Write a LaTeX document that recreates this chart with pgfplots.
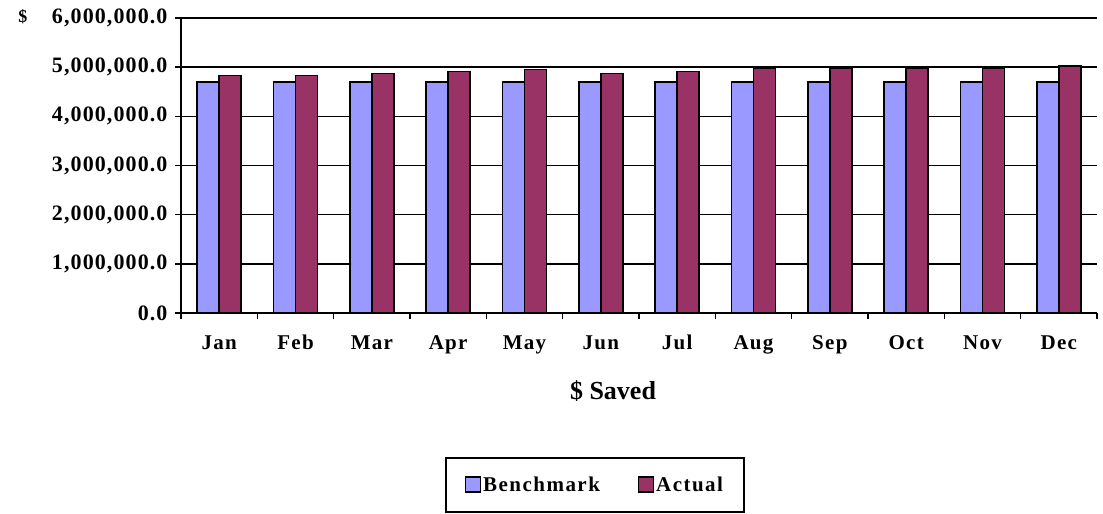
\documentclass[border=0pt]{standalone}
\usepackage{pgfplots}
\pgfplotsset{compat=1.18}
\usepackage{fontspec}
\setmainfont{Liberation Serif}
\usetikzlibrary{calc}
\definecolor{bench}{HTML}{9999FF}
\definecolor{act}{HTML}{993366}
\begin{document}
\begin{tikzpicture}
\begin{axis}[name=ax, scale only axis, width=916pt, height=295pt,
  ybar=0pt, bar width=22pt,
  xmin=-0.5, xmax=11.5, ymin=0, ymax=6000000,
  xtick={0,...,11},
  xticklabels={Jan,Feb,Mar,Apr,May,Jun,Jul,Aug,Sep,Oct,Nov,Dec},
  major x tick style={draw=none},
  minor xtick={-0.5,0.5,...,11.5},
  minor tick length=6pt,
  tick align=outside,
  major tick length=6pt,
  axis x line*=bottom, axis y line*=left,
  axis line style={-, line width=1.6pt},
  ymajorgrids, grid style={black, line width=1.5pt},
  every tick/.style={black, line width=1.4pt},
  ytick={0,1000000,2000000,3000000,4000000,5000000,6000000},
  scaled y ticks=false,
  /pgf/number format/fixed, /pgf/number format/fixed zerofill,
  /pgf/number format/precision=1, /pgf/number format/1000 sep={,},
  /pgf/number format/assume math mode=true,
  yticklabel style={xshift=-4pt, font=\bfseries\fontsize{22}{22}\selectfont\addfontfeature{LetterSpace=5}},
  xticklabel style={yshift=-12pt, text depth=0pt, text height=15pt, font=\bfseries\fontsize{21}{21}\selectfont\addfontfeature{LetterSpace=6}},
  xlabel={\$ Saved},
  xlabel style={at={(axis description cs:0.5,0)}, anchor=center, yshift=-78pt, xshift=-26pt, font=\bfseries\fontsize{26}{26}\selectfont},
  legend style={at={(axis description cs:0.452,-0.583)}, anchor=center, draw=black, line width=1.4pt,
    font=\bfseries\fontsize{21}{21}\selectfont\addfontfeature{LetterSpace=7}, legend columns=2,
    inner xsep=19pt, inner ysep=17pt, /tikz/every even column/.append style={column sep=36pt}},
  legend image code/.code={\draw[#1, line width=1.2pt] (0pt,-7pt) rectangle (15pt,8pt);},
  clip=false,
]
\addplot[fill=bench, draw=black, line width=1.7pt] coordinates {
(0,4700000) (1,4700000) (2,4700000) (3,4700000) (4,4700000) (5,4700000)
(6,4700000) (7,4700000) (8,4700000) (9,4700000) (10,4700000) (11,4700000)};
\addlegendentry{Benchmark}
\addplot[fill=act, draw=black, line width=1.7pt] coordinates {
(0,4830000) (1,4830000) (2,4870000) (3,4910000) (4,4950000) (5,4870000)
(6,4910000) (7,4980000) (8,4980000) (9,4980000) (10,4980000) (11,5030000)};
\addlegendentry{Actual}
\end{axis}
\node[font=\bfseries\fontsize{18}{18}\selectfont] at ($(ax.north west)+(-158pt,1pt)$) {\$};
\path[use as bounding box] ($(ax.south west)+(-181pt,-201pt)$) rectangle ($(ax.north east)+(6pt,18pt)$);
\end{tikzpicture}
\end{document}
